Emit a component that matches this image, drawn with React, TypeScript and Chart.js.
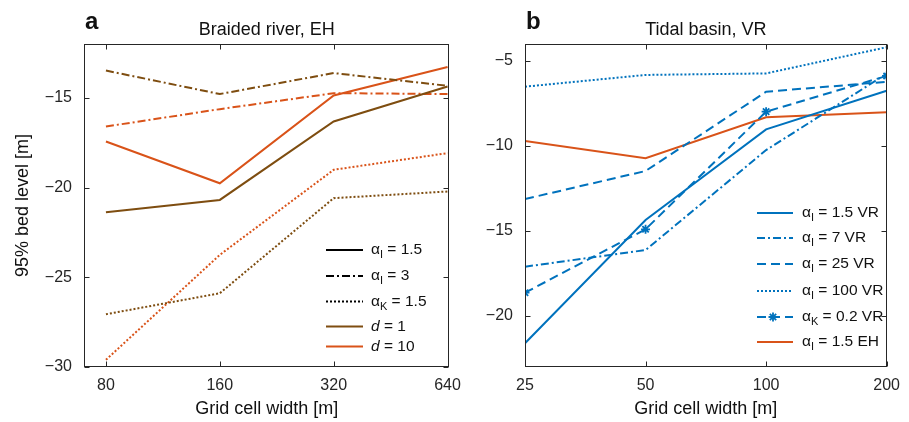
import React, { useEffect, useRef } from 'react';
import { Chart, registerables } from 'chart.js';

Chart.register(...registerables);

// ---------- data ----------
const gridWidthsA = [80, 160, 320, 640];
const gridWidthsB = [25, 50, 100, 200];
const yTicksA = [-30, -25, -20, -15];
const yTicksB = [-20, -15, -10, -5];

// Panel a: Braided river, EH
const brA15d1 = [-21.37, -20.69, -16.32, -14.37];
const brA3d1 = [-13.48, -14.79, -13.62, -14.33];
const brK15d1 = [-27.06, -25.89, -20.59, -20.22];
const brA15d10 = [-17.43, -19.76, -14.87, -13.28];
const brA3d10 = [-16.6, -15.63, -14.74, -14.79];
const brK15d10 = [-29.6, -23.75, -19.01, -18.08];

// Panel b: Tidal basin, VR
const tbA15VR = [-21.6, -14.35, -9.02, -6.75];
const tbA7VR = [-17.1, -16.12, -10.24, -5.75];
const tbA25VR = [-13.12, -11.47, -6.81, -6.22];
const tbA100VR = [-6.51, -5.82, -5.73, -4.19];
const tbK02VR = [-18.63, -14.9, -7.98, -5.88];
const tbA15EH = [-9.71, -10.72, -8.31, -8.02];

// ---------- styles ----------
const BROWN = '#7E4D10';
const ORANGE = '#D95319';
const BLUE = '#0072BD';
const AXIS = '#262626';
const FONT = '"Liberation Sans", Arial, Helvetica, sans-serif';
const SOLID: number[] = [];
const DASHDOT = [8, 3, 2, 3];
const DOTTED = [2, 2];
const DASHED = [9, 5];

type Seg = { t: string; sub?: boolean; italic?: boolean };
type LegendItem = { segs: Seg[]; color: string; dash: number[]; marker?: boolean; y: number };

const legendA: LegendItem[] = [
  { segs: [{ t: 'α' }, { t: 'I', sub: true }, { t: ' = 1.5' }], color: '#000', dash: SOLID, y: 250 },
  { segs: [{ t: 'α' }, { t: 'I', sub: true }, { t: ' = 3' }], color: '#000', dash: DASHDOT, y: 276 },
  { segs: [{ t: 'α' }, { t: 'K', sub: true }, { t: ' = 1.5' }], color: '#000', dash: DOTTED, y: 301.5 },
  { segs: [{ t: 'd', italic: true }, { t: ' = 1' }], color: BROWN, dash: SOLID, y: 326.5 },
  { segs: [{ t: 'd', italic: true }, { t: ' = 10' }], color: ORANGE, dash: SOLID, y: 346.5 },
];

const legendB: LegendItem[] = [
  { segs: [{ t: 'α' }, { t: 'I', sub: true }, { t: ' = 1.5 VR' }], color: BLUE, dash: SOLID, y: 213 },
  { segs: [{ t: 'α' }, { t: 'I', sub: true }, { t: ' = 7 VR' }], color: BLUE, dash: DASHDOT, y: 238 },
  { segs: [{ t: 'α' }, { t: 'I', sub: true }, { t: ' = 25 VR' }], color: BLUE, dash: DASHED, y: 264 },
  { segs: [{ t: 'α' }, { t: 'I', sub: true }, { t: ' = 100 VR' }], color: BLUE, dash: DOTTED, y: 291 },
  { segs: [{ t: 'α' }, { t: 'K', sub: true }, { t: ' = 0.2 VR' }], color: BLUE, dash: DASHED, marker: true, y: 317 },
  { segs: [{ t: 'α' }, { t: 'I', sub: true }, { t: ' = 1.5 EH' }], color: ORANGE, dash: SOLID, y: 342 },
];

function series(xs: number[], ys: number[]) {
  return xs.map((x, i) => ({ x, y: ys[i] }));
}

function line(label: string, xs: number[], ys: number[], color: string, dash: number[], marker = false) {
  return {
    label,
    data: series(xs, ys),
    borderColor: color,
    backgroundColor: color,
    borderWidth: 2,
    borderDash: dash,
    pointRadius: marker ? 4.5 : 0,
    pointStyle: marker ? 'star' : 'circle',
    pointBorderWidth: 1.8,
    pointBorderColor: color,
    tension: 0,
    fill: false,
  };
}

const minus = (v: number) => String(v).replace('-', '\u2212');

function framePlugin(opts: {
  letter: string;
  title: string;
  legend: LegendItem[];
  legendX1: number;
  legendX2: number;
  textX: number;
  xTicks: number[];
  yTicks: number[];
}) {
  return {
    id: 'frame',
    afterDraw(chart: any) {
      const { ctx, chartArea: a, scales } = chart;
      ctx.save();
      // box
      ctx.strokeStyle = AXIS;
      ctx.lineWidth = 1;
      ctx.setLineDash([]);
      const L = Math.round(a.left) + 0.5;
      const R = Math.round(a.right) - 0.5;
      const T = Math.round(a.top) + 0.5;
      const B = Math.round(a.bottom) - 0.5;
      ctx.strokeRect(L, T, R - L, B - T);
      // inward ticks
      const tl = 5;
      ctx.beginPath();
      for (const v of opts.xTicks) {
        const px = Math.round(scales.x.getPixelForValue(v)) + 0.5;
        ctx.moveTo(px, B);
        ctx.lineTo(px, B - tl);
        ctx.moveTo(px, T);
        ctx.lineTo(px, T + tl);
      }
      for (const v of opts.yTicks) {
        const py = Math.round(scales.y.getPixelForValue(v)) + 0.5;
        ctx.moveTo(L, py);
        ctx.lineTo(L + tl, py);
        ctx.moveTo(R, py);
        ctx.lineTo(R - tl, py);
      }
      ctx.stroke();

      // title and letter
      ctx.fillStyle = '#111';
      ctx.textBaseline = 'alphabetic';
      ctx.textAlign = 'center';
      ctx.font = `18px ${FONT}`;
      ctx.fillText(opts.title, (a.left + a.right) / 2, 35);
      ctx.textAlign = 'left';
      ctx.font = `bold 24px ${FONT}`;
      ctx.fillText(opts.letter, a.left + 1, 29);

      // legend
      for (const it of opts.legend) {
        ctx.strokeStyle = it.color;
        ctx.lineWidth = 2;
        ctx.setLineDash(it.dash);
        ctx.beginPath();
        ctx.moveTo(opts.legendX1, it.y);
        ctx.lineTo(opts.legendX2, it.y);
        ctx.stroke();
        ctx.setLineDash([]);
        if (it.marker) {
          const cx = (opts.legendX1 + opts.legendX2) / 2 - 2;
          const r = 4.5;
          ctx.lineWidth = 1.8;
          ctx.beginPath();
          for (let k = 0; k < 4; k++) {
            const ang = (k * Math.PI) / 4;
            ctx.moveTo(cx - r * Math.cos(ang), it.y - r * Math.sin(ang));
            ctx.lineTo(cx + r * Math.cos(ang), it.y + r * Math.sin(ang));
          }
          ctx.stroke();
        }
        let x = opts.textX;
        ctx.fillStyle = '#111';
        ctx.textBaseline = 'middle';
        for (const s of it.segs) {
          ctx.font = s.sub ? `11px ${FONT}` : s.italic ? `italic 15.5px ${FONT}` : `15.5px ${FONT}`;
          ctx.fillText(s.t, x, it.y + (s.sub ? 5 : 0));
          x += ctx.measureText(s.t).width;
        }
      }
      ctx.restore();
    },
  };
}

function makeConfig(p: {
  datasets: any[];
  xMin: number;
  xMax: number;
  xTicks: number[];
  yMin: number;
  yMax: number;
  yTicks: number[];
  yAxisWidth: number;
  padRight: number;
  yTitle: string | null;
  plugin: any;
}) {
  return {
    type: 'line',
    data: { datasets: p.datasets },
    options: {
      responsive: false,
      animation: false,
      devicePixelRatio: 1,
      layout: { padding: { left: 0, top: 44, right: p.padRight, bottom: 0 } },
      plugins: { legend: { display: false }, tooltip: { enabled: false } },
      scales: {
        x: {
          type: 'logarithmic',
          min: p.xMin,
          max: p.xMax,
          grid: { display: false, drawTicks: false },
          border: { display: false },
          afterBuildTicks: (s: any) => {
            s.ticks = p.xTicks.map((v) => ({ value: v }));
          },
          afterFit: (s: any) => {
            s.height = 55;
          },
          ticks: {
            autoSkip: false,
            maxRotation: 0,
            padding: 9,
            color: AXIS,
            font: { family: FONT, size: 16 },
            callback: (v: any) => String(v),
          },
          title: {
            display: true,
            text: 'Grid cell width [m]',
            color: '#111',
            font: { family: FONT, size: 18 },
            padding: { top: 0, bottom: 2 },
          },
        },
        y: {
          type: 'linear',
          min: p.yMin,
          max: p.yMax,
          grid: { display: false, drawTicks: false },
          border: { display: false },
          afterBuildTicks: (s: any) => {
            s.ticks = p.yTicks.map((v) => ({ value: v }));
          },
          afterFit: (s: any) => {
            s.width = p.yAxisWidth;
          },
          ticks: {
            autoSkip: false,
            padding: 12,
            color: AXIS,
            font: { family: FONT, size: 16 },
            callback: (v: any) => minus(v),
          },
          title: {
            display: !!p.yTitle,
            text: p.yTitle || '',
            color: '#111',
            font: { family: FONT, size: 18 },
            padding: { top: 12, bottom: 0 },
          },
        },
      },
    },
    plugins: [p.plugin],
  } as any;
}

export default function App() {
  const refA = useRef<HTMLCanvasElement>(null);
  const refB = useRef<HTMLCanvasElement>(null);

  useEffect(() => {
    const chartA = new Chart(
      refA.current as HTMLCanvasElement,
      makeConfig({
        datasets: [
          line('α=1.5, d=1', gridWidthsA, brA15d1, BROWN, SOLID),
          line('α=3, d=1', gridWidthsA, brA3d1, BROWN, DASHDOT),
          line('αK=1.5, d=1', gridWidthsA, brK15d1, BROWN, DOTTED),
          line('α=1.5, d=10', gridWidthsA, brA15d10, ORANGE, SOLID),
          line('α=3, d=10', gridWidthsA, brA3d10, ORANGE, DASHDOT),
          line('αK=1.5, d=10', gridWidthsA, brK15d10, ORANGE, DOTTED),
        ],
        xMin: 70,
        xMax: 647,
        xTicks: gridWidthsA,
        yMin: -30,
        yMax: -12,
        yTicks: yTicksA,
        yAxisWidth: 84,
        padRight: 18,
        yTitle: '95% bed level [m]',
        plugin: framePlugin({
          letter: 'a',
          title: 'Braided river, EH',
          legend: legendA,
          legendX1: 326,
          legendX2: 363,
          textX: 371,
          xTicks: gridWidthsA,
          yTicks: yTicksA,
        }),
      })
    );
    const off = 460;
    const chartB = new Chart(
      refB.current as HTMLCanvasElement,
      makeConfig({
        datasets: [
          line('α=1.5 VR', gridWidthsB, tbA15VR, BLUE, SOLID),
          line('α=7 VR', gridWidthsB, tbA7VR, BLUE, DASHDOT),
          line('α=25 VR', gridWidthsB, tbA25VR, BLUE, DASHED),
          line('α=100 VR', gridWidthsB, tbA100VR, BLUE, DOTTED),
          line('αK=0.2 VR', gridWidthsB, tbK02VR, BLUE, DASHED, true),
          line('α=1.5 EH', gridWidthsB, tbA15EH, ORANGE, SOLID),
        ],
        xMin: 25,
        xMax: 200,
        xTicks: gridWidthsB,
        yMin: -23,
        yMax: -4,
        yTicks: yTicksB,
        yAxisWidth: 65,
        padRight: 17,
        yTitle: null,
        plugin: framePlugin({
          letter: 'b',
          title: 'Tidal basin, VR',
          legend: legendB,
          legendX1: 757 - off,
          legendX2: 793 - off,
          textX: 802 - off,
          xTicks: gridWidthsB,
          yTicks: yTicksB,
        }),
      })
    );
    return () => {
      chartA.destroy();
      chartB.destroy();
    };
  }, []);

  return (
    <div style={{ position: 'fixed', left: 0, top: 0, width: 909, height: 422, background: '#fff' }}>
      <canvas ref={refA} width={470} height={422} style={{ position: 'absolute', left: 0, top: 0 }} />
      <canvas ref={refB} width={449} height={422} style={{ position: 'absolute', left: 460, top: 0 }} />
    </div>
  );
}
